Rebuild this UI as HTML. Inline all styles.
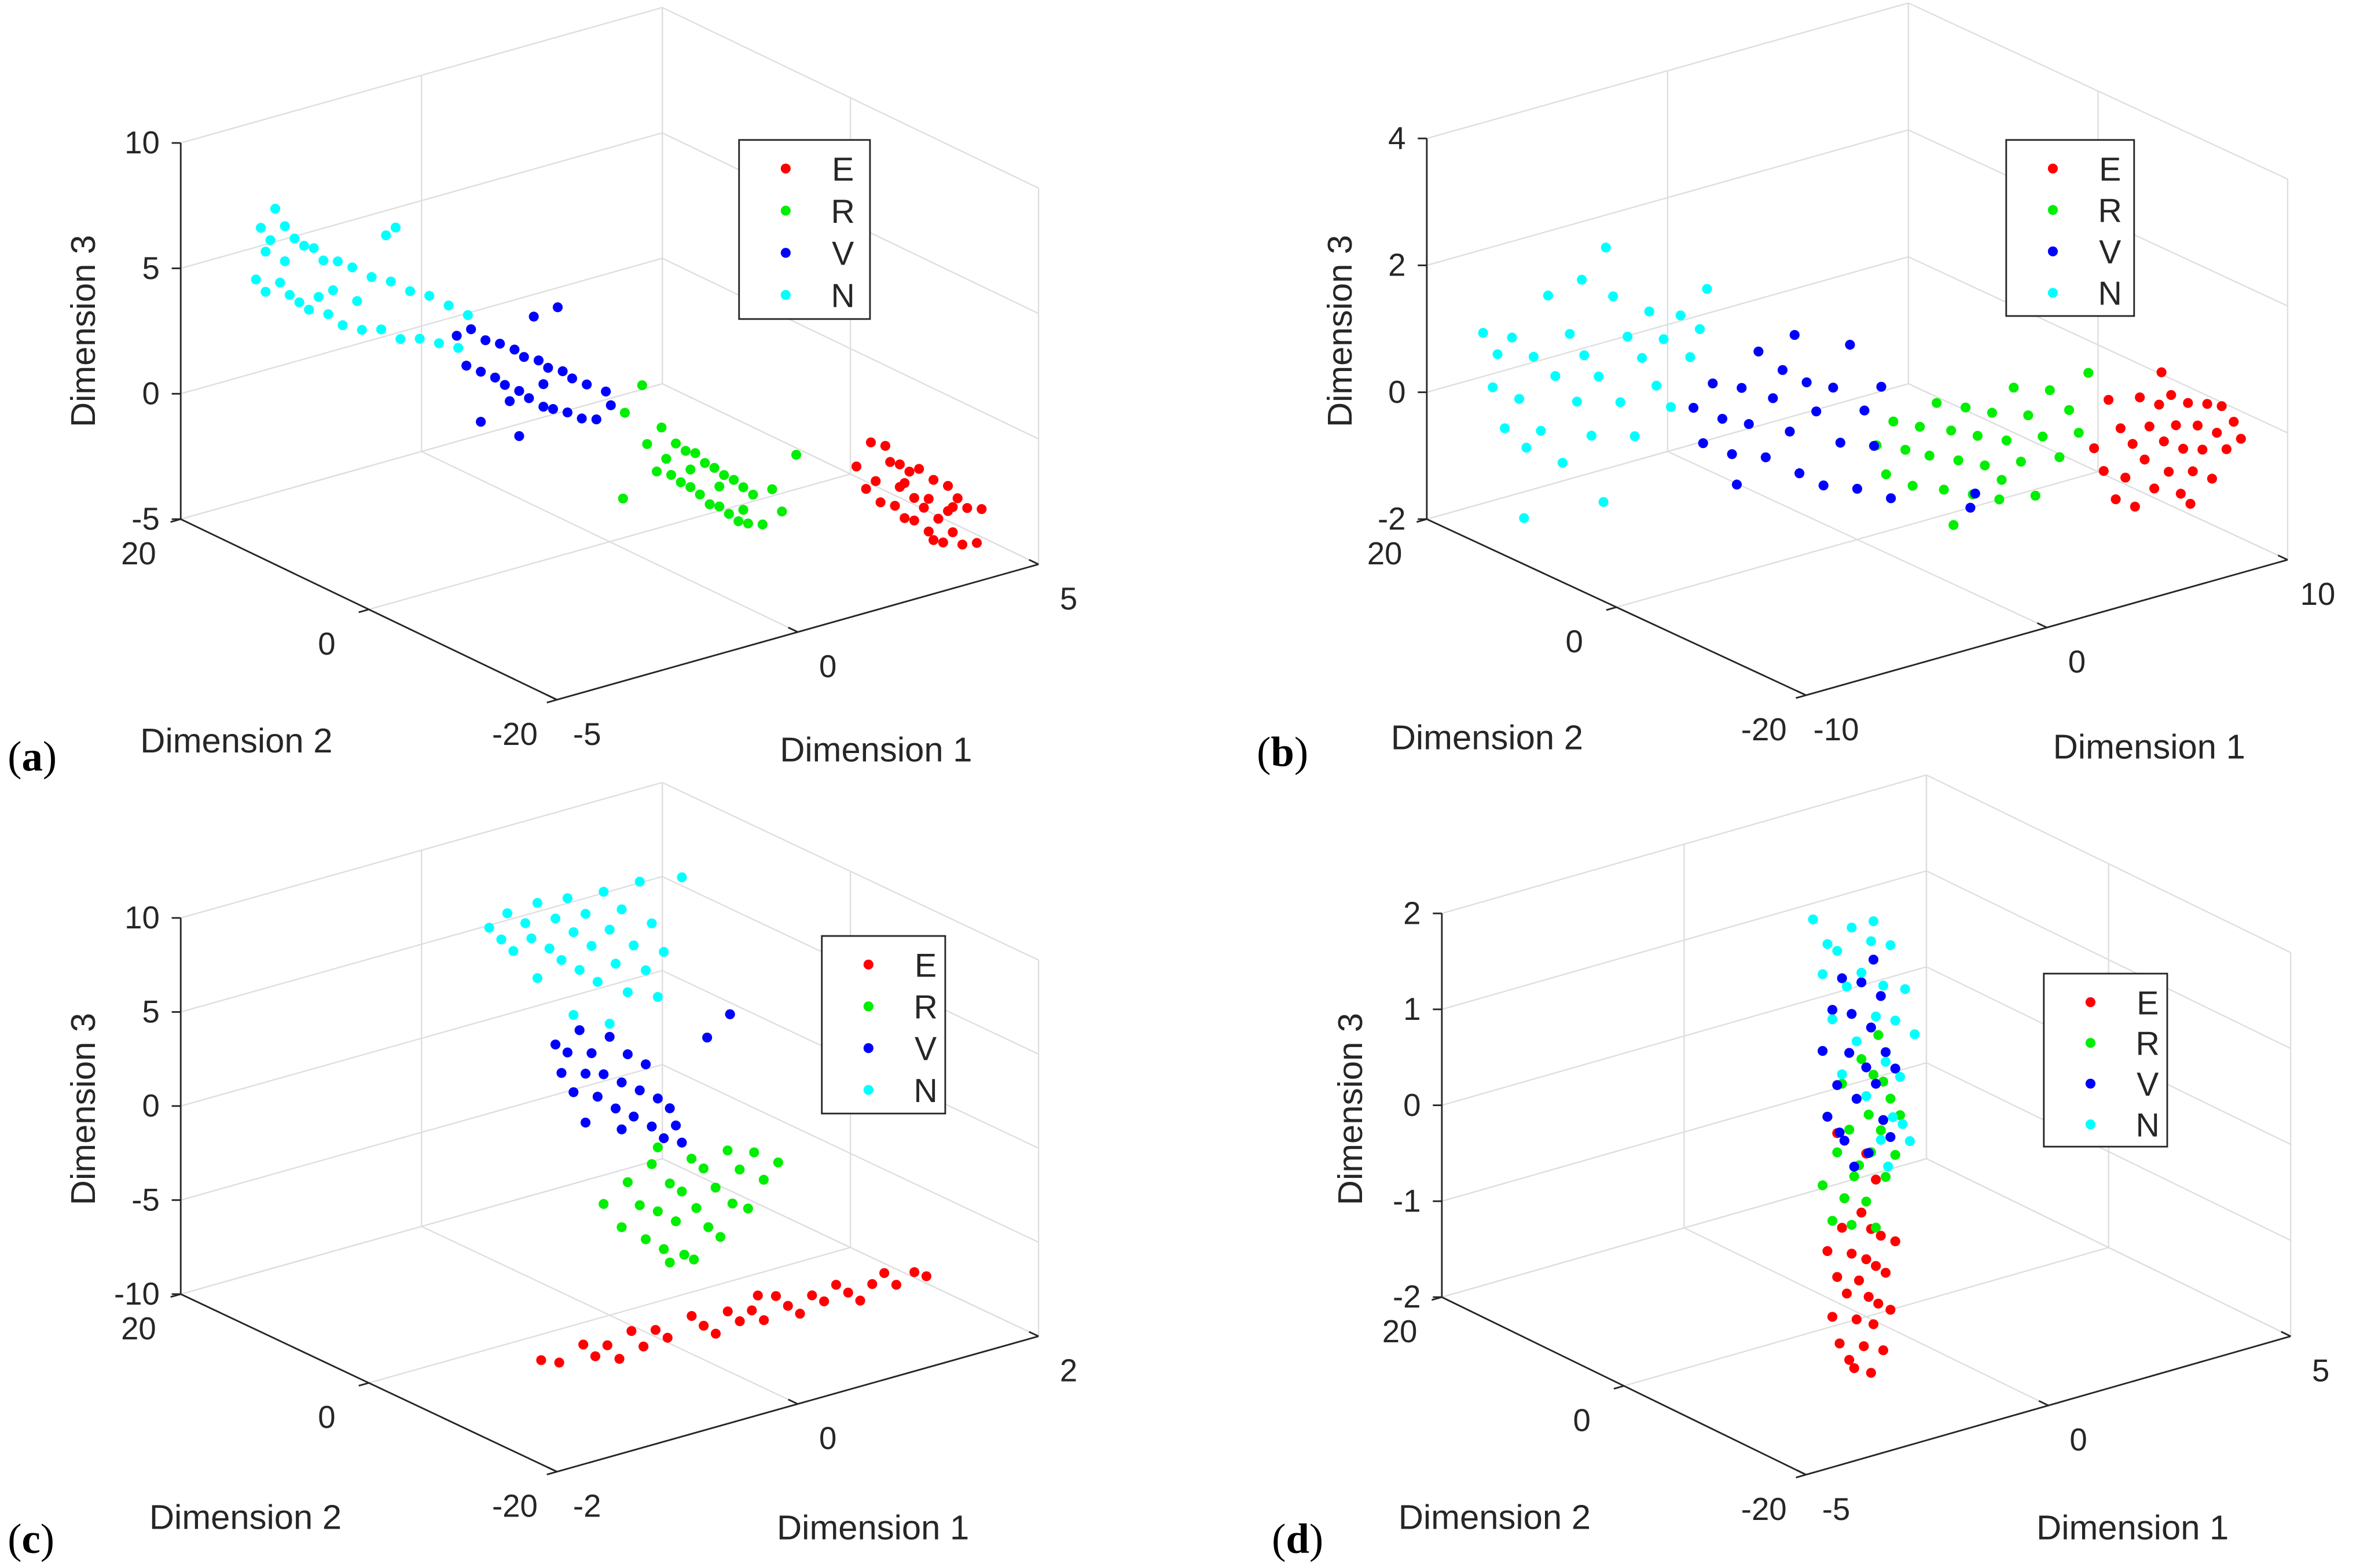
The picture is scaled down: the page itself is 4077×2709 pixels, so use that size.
<!DOCTYPE html>
<html><head><meta charset="utf-8"><title>3D scatter panels</title>
<style>
html,body{margin:0;padding:0;background:#fff;}
svg{display:block;}
text{font-family:"Liberation Sans",sans-serif;fill:#262626;}
</style></head>
<body>
<svg id="fig" width="4077" height="2709" viewBox="0 0 1568 1042" xmlns="http://www.w3.org/2000/svg"></svg>
<script>
// ===== Data (Dimension1, Dimension2, Dimension3) =====
const classNames = ["E","R","V","N"];
const classColors = ["#ff0000","#00ee00","#0000ff","#00ffff"];

const aTicksD1 = [-5,0,5];
const aTicksD2 = [-20,0,20];
const aTicksD3 = [-5,0,5,10];
const aE = [[2.0,-16,-0.2],[2.2,-16,-1.2],[2.3,-16,0.6],[2.5,-16,-1.9],[2.6,-16,0.3],[2.7,-16,-0.4],[2.8,-16,-2.2],[2.9,-16,-0.6],[3.0,-16,-2.8],[3.1,-16,-1.0],[3.2,-16,-3.0],[3.3,-16,-1.0],[3.4,-16,-2.6],[3.5,-16,-3.6],[3.6,-16,-1.6],[3.7,-16,-3.2],[3.8,-16,-4.2],[3.9,-16,-2.0],[4.0,-16,-3.9],[4.1,-16,-2.6],[4.2,-16,-4.5],[4.3,-16,-3.1],[4.5,-16,-4.6],[4.6,-16,-3.3],[3.0,-16,-1.4],[3.5,-16,-2.3],[3.9,-16,-3.0],[3.2,-16,-2.1],[2.9,-16,-1.5],[4.0,-16,-2.9],[2.4,-16,-1.0],[3.6,-16,-4.0]];
const aR = [[-0.2,-5,-0.1],[0.0,-5,-1.3],[0.1,-5,0.4],[0.3,-5,-1.6],[0.4,-5,-0.4],[0.5,-5,-2.0],[0.6,-5,-0.8],[0.7,-5,-2.3],[0.8,-5,-1.0],[0.9,-5,-2.7],[1.0,-5,-1.5],[1.1,-5,-3.2],[1.2,-5,-1.8],[1.3,-5,-3.4],[1.4,-5,-2.2],[1.5,-5,-3.8],[1.6,-5,-2.5],[1.7,-5,-4.2],[1.8,-5,-2.9],[1.9,-5,-4.4],[2.0,-5,-3.3],[2.2,-5,-4.6],[2.4,-5,-3.3],[2.6,-5,-4.3],[-0.7,-5,-2.0],[2.9,-5,-2.2],[0.7,-5,-1.6],[1.3,-5,-2.6],[1.8,-5,-3.8],[0.2,-5,-0.9],[-0.3,-5,2.3],[-0.66,-5,1.4]];
const aV = [[-2.2,5,3.5],[-2.0,5,2.2],[-1.9,5,3.6],[-1.7,5,1.8],[-1.6,5,3.0],[-1.4,5,1.4],[-1.3,5,2.7],[-1.2,5,1.0],[-1.0,5,2.3],[-0.9,5,0.6],[-0.8,5,1.9],[-0.7,5,0.2],[-0.5,5,1.6],[-0.4,5,-0.3],[-0.3,5,1.2],[-0.2,5,-0.5],[0.0,5,0.9],[0.1,5,-0.8],[0.2,5,0.5],[0.4,5,-1.2],[0.5,5,0.1],[0.7,5,-1.4],[0.9,5,-0.4],[1.0,5,-1.0],[-0.6,5,3.4],[-0.1,5,3.5],[-1.7,5,-0.2],[-0.9,5,-1.2],[-1.1,5,0.3],[-0.4,5,0.6]];
const aN = [[-5.0,12,6.0],[-4.9,12,8.0],[-4.8,12,5.4],[-4.7,12,7.4],[-4.6,12,8.6],[-4.5,12,5.6],[-4.4,12,7.8],[-4.3,12,5.0],[-4.2,12,7.2],[-4.1,12,4.6],[-4.0,12,6.8],[-3.9,12,4.2],[-3.8,12,6.6],[-3.7,12,4.6],[-3.6,12,6.0],[-3.5,12,3.8],[-3.3,12,5.8],[-3.2,12,3.2],[-3.0,12,5.4],[-2.8,12,2.8],[-2.6,12,4.8],[-2.4,12,2.6],[-2.2,12,4.4],[-2.0,12,2.0],[-1.8,12,3.8],[-1.6,12,1.8],[-1.4,12,3.4],[-1.2,12,1.4],[-1.0,12,2.8],[-0.8,12,1.0],[-0.6,12,2.2],[-2.3,12,6.3],[-2.1,12,6.5],[-4.4,12,6.4],[-3.4,12,4.7],[-2.9,12,4.0],[-4.8,12,7.0]];

const bTicksD1 = [-10,0,10];
const bTicksD2 = [-20,0,20];
const bTicksD3 = [-2,0,2,4];
const bE = [[5.9,-10,-0.5],[6.3,-10,-0.9],[6.5,-10,0.2],[7.0,-10,-0.3],[7.2,-10,-1.1],[7.5,-10,-0.6],[7.8,-10,0.1],[8.0,-10,-0.9],[8.2,-10,-0.4],[8.4,-10,-1.4],[8.6,-10,-0.1],[8.8,-10,-0.7],[9.0,-10,-1.2],[9.1,-10,0.0],[9.3,-10,-0.5],[9.5,-10,-1.6],[9.6,-10,-0.9],[9.8,-10,-0.2],[10.0,-10,-1.3],[10.2,-10,-0.6],[10.4,-10,-1.0],[10.6,-10,-0.3],[10.8,-10,-1.5],[11.0,-10,-0.8],[11.2,-10,-0.4],[11.4,-10,-1.1],[11.7,-10,-0.7],[12.0,-10,-1.0],[7.6,-10,-1.6],[9.9,-10,-1.8],[8.7,-10,0.4],[6.8,-10,-1.4]];
const bR = [[0.8,0,-0.6],[1.2,0,-1.1],[1.5,0,-0.3],[2.0,0,-0.8],[2.3,0,-1.4],[2.6,0,-0.5],[3.0,0,-1.0],[3.3,0,-0.2],[3.6,0,-1.6],[3.9,0,-0.7],[4.2,0,-1.2],[4.5,0,-0.4],[4.8,0,-1.8],[5.0,0,-0.9],[5.3,0,-1.4],[5.6,0,-0.6],[5.9,0,-2.0],[6.2,0,-1.1],[6.5,0,-0.3],[6.8,0,-1.5],[7.1,0,-0.8],[7.4,0,-2.1],[7.7,0,-1.2],[8.0,0,-0.5],[8.4,0,-1.6],[8.8,0,-0.9],[9.2,0,-1.3],[9.6,0,-0.4],[4.0,0,-2.2],[6.0,0,-1.7]];
const bV = [[-6.8,0,0.8],[-6.4,0,0.2],[-6.0,0,1.1],[-5.6,0,0.5],[-5.2,0,-0.1],[-4.8,0,0.9],[-4.5,0,0.3],[-4.1,0,1.4],[-3.8,0,-0.3],[-3.5,0,0.6],[-3.1,0,1.0],[-2.8,0,0.0],[-2.4,0,-0.7],[-2.1,0,0.7],[-1.7,0,0.2],[-1.4,0,-1.0],[-1.0,0,0.5],[-0.7,0,-0.4],[-0.3,0,1.1],[0.0,0,-1.2],[0.3,0,0.0],[0.7,0,-0.6],[1.0,0,0.3],[1.4,0,-1.5],[-5.0,0,-0.6],[-2.6,0,1.5],[4.7,0,-2.0],[4.9,0,-1.8]];
const bN = [[-11.6,10,1.8],[-11.2,10,0.9],[-11.0,10,1.4],[-10.7,10,0.2],[-10.4,10,1.6],[-10.1,10,0.6],[-9.8,10,-0.2],[-9.5,10,1.2],[-9.2,10,0.0],[-8.9,10,2.1],[-8.6,10,0.8],[-8.3,10,-0.6],[-8.0,10,1.4],[-7.7,10,0.3],[-7.4,10,1.0],[-7.1,10,-0.3],[-6.8,10,0.6],[-6.5,10,2.6],[-6.2,10,1.8],[-5.9,10,0.1],[-5.6,10,1.1],[-5.3,10,-0.5],[-5.0,10,0.7],[-4.7,10,1.4],[-4.4,10,0.2],[-4.1,10,0.9],[-3.8,10,-0.2],[-3.4,10,1.2],[-3.0,10,0.5],[-2.6,10,0.9],[-2.3,10,1.5],[-9.9,10,-1.3],[-6.6,10,-1.4],[-7.5,10,2.2]];

const cTicksD1 = [-2,0,2];
const cTicksD2 = [-20,0,20];
const cTicksD3 = [-10,-5,0,5,10];
const cE = [[-1.35,-10,-7.6],[-1.2,-10,-8.0],[-1.0,-10,-7.4],[-0.9,-10,-8.2],[-0.8,-10,-7.8],[-0.6,-10,-7.4],[-0.5,-10,-8.4],[-0.4,-10,-7.7],[-0.3,-10,-8.3],[-0.1,-10,-7.5],[0.0,-10,-8.2],[0.1,-10,-8.8],[0.2,-10,-7.8],[0.3,-10,-8.5],[0.4,-10,-8.1],[0.5,-10,-8.8],[0.6,-10,-7.7],[0.7,-10,-8.4],[0.8,-10,-9.0],[0.9,-10,-8.2],[1.0,-10,-8.7],[1.1,-10,-8.0],[1.2,-10,-8.6],[1.3,-10,-9.2],[1.4,-10,-8.5],[1.5,-10,-8.1],[1.6,-10,-8.9],[1.75,-10,-8.5],[1.85,-10,-8.9],[-0.7,-10,-8.7],[0.45,-10,-7.4]];
const cR = [[-0.05,0,-4.0],[0.1,0,-5.5],[0.15,0,-3.2],[0.25,0,-4.6],[0.3,0,-6.5],[0.35,0,-2.6],[0.4,0,-5.2],[0.45,0,-7.3],[0.5,0,-3.9],[0.55,0,-6.0],[0.6,0,-4.5],[0.62,0,-7.9],[0.68,0,-2.9],[0.72,0,-5.6],[0.78,0,-3.6],[0.82,0,-6.8],[0.88,0,-4.8],[0.92,0,-7.5],[0.98,0,-3.0],[1.02,0,-5.9],[1.08,0,-4.2],[1.15,0,-6.4],[1.2,0,-3.5],[1.28,0,-5.1],[0.5,0,-8.1],[0.7,0,-8.3],[0.4,0,-1.8],[1.4,0,-4.4]];
const cV = [[-0.45,0,5.2],[-0.4,0,3.6],[-0.35,0,4.6],[-0.3,0,2.4],[-0.25,0,5.6],[-0.2,0,3.2],[-0.15,0,4.2],[-0.1,0,1.8],[-0.05,0,2.9],[0.0,0,4.8],[0.05,0,0.9],[0.1,0,2.2],[0.15,0,3.6],[0.2,0,0.2],[0.25,0,1.5],[0.3,0,2.8],[0.35,0,-0.6],[0.4,0,0.8],[0.45,0,-1.4],[0.5,0,0.1],[0.55,0,-0.9],[0.6,0,-1.9],[0.1,0,-0.3],[-0.2,0,0.6],[0.81,0,3.3],[1.0,0,4.2]];
const cN = [[-1.0,0,12.4],[-0.9,0,11.6],[-0.85,0,12.9],[-0.8,0,10.8],[-0.7,0,12.1],[-0.65,0,11.2],[-0.6,0,13.0],[-0.5,0,10.4],[-0.45,0,11.9],[-0.4,0,9.6],[-0.35,0,12.8],[-0.3,0,10.9],[-0.25,0,8.8],[-0.2,0,11.7],[-0.15,0,9.9],[-0.1,0,7.9],[-0.05,0,12.6],[0.0,0,10.5],[0.05,0,8.6],[0.1,0,11.4],[0.15,0,6.9],[0.2,0,9.3],[0.25,0,12.6],[0.3,0,7.8],[0.35,0,10.2],[0.4,0,6.2],[0.45,0,8.5],[-0.3,0,6.5],[0.0,0,5.5],[-0.6,0,9.0],[0.6,0,12.2]];

const dTicksD1 = [-5,0,5];
const dTicksD2 = [-20,0,20];
const dTicksD3 = [-2,-1,0,1,2];
const dE = [[-0.8,0,-1.2],[-0.7,0,-1.9],[-0.6,0,-1.5],[-0.55,0,-2.2],[-0.5,0,-1.0],[-0.4,0,-1.7],[-0.35,0,-2.4],[-0.3,0,-1.3],[-0.2,0,-2.0],[-0.15,0,-1.6],[-0.1,0,-0.9],[-0.05,0,-2.3],[0.0,0,-1.4],[0.05,0,-1.8],[0.1,0,-1.1],[0.15,0,-2.1],[0.2,0,-1.5],[0.25,0,-1.9],[0.3,0,-1.2],[0.35,0,-2.4],[0.4,0,-1.6],[0.5,0,-2.0],[0.6,0,-1.3],[-0.25,0,-2.5],[0.1,0,-2.6],[-0.45,0,-0.7],[0.0,0,-0.3],[-0.6,0,0.0],[0.2,0,-0.6]];
const dR = [[-0.9,0,-0.5],[-0.8,0,0.2],[-0.7,0,-0.9],[-0.6,0,-0.2],[-0.5,0,0.5],[-0.45,0,-0.7],[-0.35,0,0.0],[-0.3,0,-1.0],[-0.2,0,0.3],[-0.15,0,-0.4],[-0.1,0,0.7],[0.0,0,-0.8],[0.05,0,0.1],[0.1,0,-0.3],[0.15,0,0.5],[0.2,0,-1.1],[0.3,0,-0.1],[0.35,0,0.4],[0.4,0,-0.6],[0.5,0,0.2],[0.6,0,-0.4],[0.7,0,0.0],[-0.25,0,-0.5],[0.25,0,0.9]];
const dV = [[-0.9,0,0.9],[-0.8,0,0.2],[-0.7,0,1.3],[-0.6,0,0.5],[-0.5,0,1.6],[-0.45,0,-0.1],[-0.35,0,0.8],[-0.3,0,1.2],[-0.2,0,0.3],[-0.1,0,1.5],[0.0,0,0.6],[0.05,0,-0.3],[0.1,0,1.0],[0.2,0,0.4],[0.3,0,1.3],[0.35,0,0.0],[0.4,0,0.7],[0.5,0,-0.2],[0.6,0,0.5],[-0.55,0,0.0],[0.15,0,1.7],[-0.25,0,-0.4]];
const dN = [[-1.1,0,2.3],[-0.9,0,1.7],[-0.8,0,2.0],[-0.7,0,1.2],[-0.6,0,1.9],[-0.5,0,0.6],[-0.4,0,1.5],[-0.3,0,2.1],[-0.2,0,0.9],[-0.1,0,1.6],[0.0,0,0.3],[0.1,0,1.9],[0.2,0,1.1],[0.3,0,-0.2],[0.35,0,1.4],[0.4,0,0.6],[0.5,0,1.8],[0.55,0,0.0],[0.6,0,1.0],[0.7,0,0.4],[0.8,0,1.3],[0.9,0,-0.3],[1.0,0,0.8],[0.45,0,-0.5],[0.15,0,2.1],[0.75,0,-0.1]];

// ===== Layout =====
const NS = "http://www.w3.org/2000/svg";
const svg = document.getElementById('fig');
function mk(tag, attrs, parent){
  const e = document.createElementNS(NS, tag);
  for (const k in attrs) e.setAttribute(k, attrs[k]);
  (parent||svg).appendChild(e);
  return e;
}

const panels = [
  {id:"a", front:[370,465], e1:[320,-90], e2:[-250,-120], zh:250, r1:[-5,5], r2:[-20,20], r3:[-5,10],
   t1:aTicksD1, t2:aTicksD2, t3:aTicksD3, series:[aE,aR,aV,aN],
   legend:[491,93,87,119], d3title:[55,220], d2title:[157,492], d1title:[582,498], letter:[5,512]},
  {id:"b", front:[1200,462], e1:[320,-90], e2:[-252,-117], zh:253, r1:[-10,10], r2:[-20,20], r3:[-2,4],
   t1:bTicksD1, t2:bTicksD2, t3:bTicksD3, series:[bE,bR,bV,bN],
   legend:[1333,93,85,117], d3title:[890,220], d2title:[988,490], d1title:[1428,496], letter:[835,509]},
  {id:"c", front:[370,978], e1:[320,-90], e2:[-250,-118], zh:250, r1:[-2,2], r2:[-20,20], r3:[-10,10],
   t1:cTicksD1, t2:cTicksD2, t3:cTicksD3, series:[cE,cR,cV,cN],
   legend:[546,622,82,118], d3title:[55,737], d2title:[163,1008], d1title:[580,1015], letter:[5,1032]},
  {id:"d", front:[1200,980], e1:[322,-92], e2:[-242,-118], zh:255, r1:[-5,5], r2:[-20,20], r3:[-2,2],
   t1:dTicksD1, t2:dTicksD2, t3:dTicksD3, series:[dE,dR,dV,dN],
   legend:[1358,647,82,115], d3title:[897,737], d2title:[993,1008], d1title:[1417,1015], letter:[845,1032]}
];

function drawPanel(p){
  const g = mk('g', {});
  
  
  const f1 = v => (v - p.r1[0]) / (p.r1[1] - p.r1[0]);
  const f2 = v => (v - p.r2[0]) / (p.r2[1] - p.r2[0]);
  const f3 = v => (v - p.r3[0]) / (p.r3[1] - p.r3[0]);
  const proj = (a, b, c) => [
    p.front[0] + f1(a) * p.e1[0] + f2(b) * p.e2[0],
    p.front[1] + f1(a) * p.e1[1] + f2(b) * p.e2[1] - f3(c) * p.zh
  ];
  const [x1a, x1b] = p.r1, [x2a, x2b] = p.r2, [x3a, x3b] = p.r3;
  const grid = mk('g', {stroke:'#dedede','stroke-width':0.9, fill:'none'}, g);
  
  
  const line = (P, Q, par) => mk('line', {x1:P[0], y1:P[1], x2:Q[0], y2:Q[1]}, par);
  p.t1.forEach(t => line(proj(t, x2a, x3a), proj(t, x2b, x3a), grid));
  p.t2.forEach(t => line(proj(x1a, t, x3a), proj(x1b, t, x3a), grid));
  p.t1.forEach(t => line(proj(t, x2b, x3a), proj(t, x2b, x3b), grid));
  p.t3.forEach(t => line(proj(x1a, x2b, t), proj(x1b, x2b, t), grid));
  p.t2.forEach(t => line(proj(x1b, t, x3a), proj(x1b, t, x3b), grid));
  p.t3.forEach(t => line(proj(x1b, x2a, t), proj(x1b, x2b, t), grid));
  const ax = mk('g', {stroke:'#262626','stroke-width':1.1}, g);
  
  
  line(proj(x1a, x2b, x3a), proj(x1a, x2b, x3b), ax);
  line(proj(x1a, x2b, x3a), proj(x1a, x2a, x3a), ax);
  line(proj(x1a, x2a, x3a), proj(x1b, x2a, x3a), ax);
  const u2 = [p.e2[0] / Math.hypot(...p.e2), p.e2[1] / Math.hypot(...p.e2)];
  const u1 = [p.e1[0] / Math.hypot(...p.e1), p.e1[1] / Math.hypot(...p.e1)];
  p.t3.forEach(t => {
    const P = proj(x1a, x2b, t);
    line(P, [P[0] - 6, P[1]], ax);
    const tx = mk('text', {x:P[0] - 14, y:P[1] + 7, 'text-anchor':'end', 'font-size':21}, g);
    tx.textContent = t;
    
    
  });
  p.t2.forEach(t => {
    const P = proj(x1a, t, x3a);
    line(P, [P[0] - u1[0] * 7, P[1] - u1[1] * 7], ax);
    const tx = mk('text', {x:P[0] - 28, y:P[1] + 30, 'text-anchor':'middle', 'font-size':21}, g);
    tx.textContent = t;
    
    
  });
  p.t1.forEach(t => {
    const P = proj(t, x2a, x3a);
    line(P, [P[0] + u2[0] * 7, P[1] + u2[1] * 7], ax);
    const tx = mk('text', {x:P[0] + 20, y:P[1] + 30, 'text-anchor':'middle', 'font-size':21}, g);
    tx.textContent = t;
    
    
  });
  const t3 = mk('text', {x:p.d3title[0], y:p.d3title[1], 'text-anchor':'middle', 'font-size':23,
    transform:`rotate(-90 ${p.d3title[0]} ${p.d3title[1]})`, dy:8}, g);
  t3.textContent = 'Dimension 3';
  
  
  const t2 = mk('text', {x:p.d2title[0], y:p.d2title[1] + 8, 'text-anchor':'middle', 'font-size':23}, g);
  t2.textContent = 'Dimension 2';
  
  
  const t1 = mk('text', {x:p.d1title[0], y:p.d1title[1] + 8, 'text-anchor':'middle', 'font-size':23}, g);
  t1.textContent = 'Dimension 1';
  
  
  const lt = mk('text', {x:p.letter[0], y:p.letter[1], 'font-size':28, style:'font-family:"Liberation Serif",serif;fill:#000'}, g);
  lt.innerHTML = '(<tspan font-weight="bold">' + p.id + '</tspan>)';
  
  
  p.series.forEach((pts, si) => {
    const sg = mk('g', {fill:classColors[si]}, g);
    
    
    pts.forEach(pt => {
      const P = proj(pt[0], pt[1], pt[2]);
      const c = mk('circle', {cx:P[0].toFixed(1), cy:P[1].toFixed(1), r:3.3}, sg);
      
      
    });
  });
  const [lx, ly, lw, lh] = p.legend;
  const lg = mk('g', {}, g);
  
  
  mk('rect', {x:lx, y:ly, width:lw, height:lh, fill:'#fff', stroke:'#262626', 'stroke-width':1.1}, lg);
  classNames.forEach((n, i) => {
    const yy = ly + 19 + i * 28 * (lh / 119);
    const e = mk('g', {}, lg);
    
    
    mk('circle', {cx:lx + 31, cy:yy, r:3.3, fill:classColors[i]}, e);
    const tx = mk('text', {x:lx + 69, y:yy + 8, 'text-anchor':'middle', 'font-size':22}, e);
    tx.textContent = n;
  });
}
panels.forEach(drawPanel);
</script>
</body></html>
